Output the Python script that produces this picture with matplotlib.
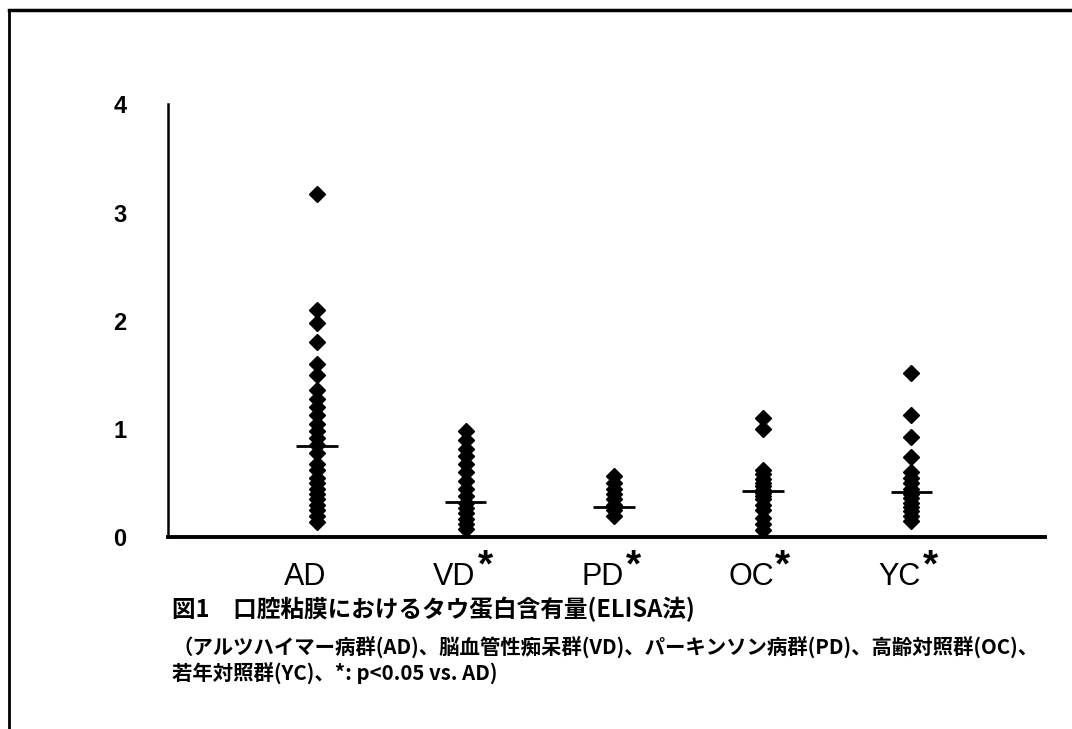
import matplotlib
matplotlib.use("Agg")
import matplotlib.pyplot as plt
from matplotlib.lines import Line2D

plt.rcParams['font.family'] = ['Liberation Sans', 'Noto Sans CJK JP', 'DejaVu Sans']

# groups and values
groups = ["AD", "VD", "PD", "OC", "YC"]
starred = [False, True, True, True, True]
ad = [3.17, 2.1, 1.98, 1.8, 1.6, 1.5, 1.36, 1.28, 1.2, 1.13, 1.05, 0.98, 0.92,
      0.85, 0.78, 0.68, 0.62, 0.55, 0.5, 0.45, 0.4, 0.35, 0.3, 0.25, 0.2, 0.14]
vd = [0.98, 0.9, 0.82, 0.75, 0.68, 0.6, 0.52, 0.45, 0.38, 0.32, 0.27, 0.22,
      0.17, 0.12, 0.08]
pd_ = [0.57, 0.5, 0.45, 0.4, 0.35, 0.3, 0.25, 0.2]
oc = [1.1, 1.0, 0.62, 0.58, 0.54, 0.5, 0.47, 0.44, 0.41, 0.38, 0.35, 0.3,
      0.25, 0.18, 0.12, 0.07]
yc = [1.52, 1.13, 0.93, 0.74, 0.6, 0.55, 0.5, 0.45, 0.4, 0.36, 0.32, 0.28,
      0.24, 0.2, 0.15]
means = [0.84, 0.33, 0.28, 0.43, 0.42]
yticks = [0, 1, 2, 3, 4]

title = "図1　口腔粘膜におけるタウ蛋白含有量(ELISA法)"
note1 = "（アルツハイマー病群(AD)、脳血管性痴呆群(VD)、パーキンソン病群(PD)、高齢対照群(OC)、"
note2 = "若年対照群(YC)、*: p<0.05 vs. AD)"

fig = plt.figure(figsize=(10.72, 7.29), dpi=100)
ax = fig.add_axes([0.157, 0.263, 0.818, 0.594])

for i, vals in enumerate([ad, vd, pd_, oc, yc]):
    x = i + 1
    ax.plot([x] * len(vals), vals, linestyle="none", marker="D",
            markersize=8, color="black")
    ax.hlines(means[i], x - 0.14, x + 0.14, color="black", linewidth=2)

ax.set_xlim(0, 5.9)
ax.set_ylim(0, 4)
ax.set_yticks(yticks)
ax.set_yticklabels([str(t) for t in yticks], fontsize=17, fontweight="bold")
ax.tick_params(axis="y", length=0, pad=30)
ax.set_xticks([])
for s in ["top", "right"]:
    ax.spines[s].set_visible(False)
ax.spines["left"].set_linewidth(1.8)
ax.spines["bottom"].set_linewidth(2.8)

# category labels under the axis
for i, g in enumerate(groups):
    ax.text(i + 1 - 0.08, -0.37, g, ha="center", va="center", fontsize=22)
    if starred[i]:
        ax.text(i + 1 - 0.08 + 0.16, -0.27, "*", ha="left", va="center",
                fontsize=28, fontweight="bold")

cjk = ['Noto Sans CJK JP', 'DejaVu Sans']
fig.text(172 / 1072, 1 - 609 / 729, title, fontsize=17, fontweight="bold",
         family=cjk, va="center", ha="left")
fig.text(172 / 1072, 1 - 648 / 729, note1, fontsize=14.7, fontweight="bold",
         family=cjk, va="center", ha="left")
fig.text(172 / 1072, 1 - 674 / 729, note2, fontsize=14.7, fontweight="bold",
         family=cjk, va="center", ha="left")

# outer frame (left and top edges)
fig.add_artist(Line2D([9 / 1072, 9 / 1072], [0, 1 - 10 / 729],
                      transform=fig.transFigure, color="black", linewidth=2))
fig.add_artist(Line2D([9 / 1072, 1], [1 - 10 / 729, 1 - 10 / 729],
                      transform=fig.transFigure, color="black", linewidth=2.5))

fig.savefig("out.png", dpi=100)
